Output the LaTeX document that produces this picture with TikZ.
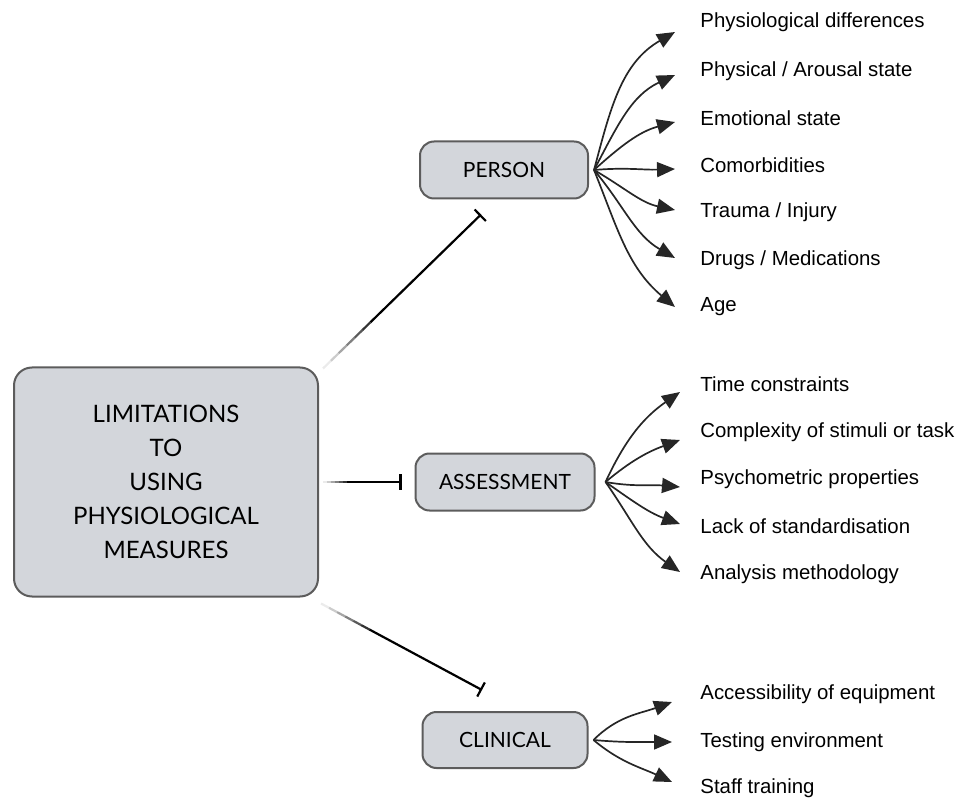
\documentclass[tikz,border=0pt]{standalone}
\usepackage{fontspec}
\setmainfont{Liberation Sans}
\newfontfamily\boxfont{Lato}
\usetikzlibrary{arrows.meta,calc}
\definecolor{boxgray}{HTML}{D3D6DB}
\definecolor{boxline}{HTML}{5C5C5C}
\tikzstyle{box}=[draw=boxline,fill=boxgray,line width=1pt,rounded corners=7pt,font=\boxfont\fontsize{10.5}{12}\selectfont]
\tikzstyle{item}=[anchor=west,inner sep=0pt,font=\fontsize{10.2}{12}\selectfont]
\tikzstyle{fan}=[draw,line width=0.85pt,black!85,-{Triangle[length=9pt,width=7.5pt]}]
\tikzstyle{link}=[draw,line width=1.1pt,-{Bar[width=8pt]}]

\begin{document}
\begin{tikzpicture}[x=0.5pt,y=-0.5pt]
	\useasboundingbox (0,0) rectangle (967,801);

	% the main box and the three groups
	\node[box,minimum width=152pt,minimum height=114.5pt,rounded corners=9pt,align=center,
		font=\boxfont\fontsize{12}{17}\selectfont] (main) at (166,482)
		{LIMITATIONS\\TO\\USING\\PHYSIOLOGICAL\\MEASURES};
	\node[box,minimum width=84pt,minimum height=28.5pt] (person) at (504,170) {PERSON};
	\node[box,minimum width=89.5pt,minimum height=28.5pt] (assess) at (505,482) {ASSESSMENT};
	\node[box,minimum width=82.5pt,minimum height=28pt] (clinical) at (505,740) {CLINICAL};

	% the items
	\foreach \y/\name/\txt in {22/pa/Physiological differences, 71/pb/{Physical / Arousal state},
		118/pc/Emotional state, 165/pd/Comorbidities, 212/pe/{Trauma / Injury},
		260/pf/{Drugs / Medications}, 307/pg/Age,
		384/ta/Time constraints, 432/tb/Complexity of stimuli or task,
		479/tc/Psychometric properties, 526/td/Lack of standardisation,
		574/te/Analysis methodology,
		694/ca/Accessibility of equipment, 742/cb/Testing environment, 788/cc/Staff training}
	\node[item] (\name) at (700,\y) {\txt};

	% links from the main box, fading out near it
	\coordinate (s1) at ([shift={(2pt,-1pt)}]main.north east);
	\coordinate (e1) at ([shift={(-11.5pt,-7.5pt)}]person.south);
	\coordinate (s2) at ([xshift=2pt]main.east);
	\coordinate (e2) at ([xshift=-6.5pt]assess.west);
	\coordinate (s3) at ([shift={(1pt,-3pt)}]main.south east);
	\coordinate (e3) at ([shift={(-11.5pt,10.5pt)}]clinical.north);
	\foreach \s/\e in {s1/e1, s2/e2, s3/e3} {
		\path[link] ($(\s)!0.3!(\e)$) -- (\e);
		\foreach \f/\c in {0/8, 0.05/20, 0.1/35, 0.15/50, 0.2/65, 0.25/80}
		\draw[line width=1.1pt,black!\c] ($(\s)!\f!(\e)$) -- ($(\s)!\f+0.05!(\e)$);
	}

	% fans to the items
	\foreach \name/\o/\i/\dy in {pa/75/210/-5, pb/62/205/-2, pc/42/195/-2, pd/5/182/-2,
		pe/-30/168/1, pf/-50/150/1, pg/-68/140/0}
	\path[fan] ([xshift=2.5pt]person.east) to[out=\o,in=\i] ([shift={(-12.5pt,\dy pt)}]\name.west);

	\foreach \name/\o/\i/\dy in {ta/65/215/-4, tb/40/200/-4, tc/-10/175/-4, td/-35/160/1, te/-55/145/1}
	\path[fan] ([xshift=5pt]assess.east) to[out=\o,in=\i] ([shift={(-10pt,\dy pt)}]\name.west);

	\foreach \name/\o/\i/\dy in {ca/45/200/-4, cb/-5/180/0, cc/-40/155/3}
	\path[fan] ([xshift=2.5pt]clinical.east) to[out=\o,in=\i] ([shift={(-14pt,\dy pt)}]\name.west);
\end{tikzpicture}
\end{document}
